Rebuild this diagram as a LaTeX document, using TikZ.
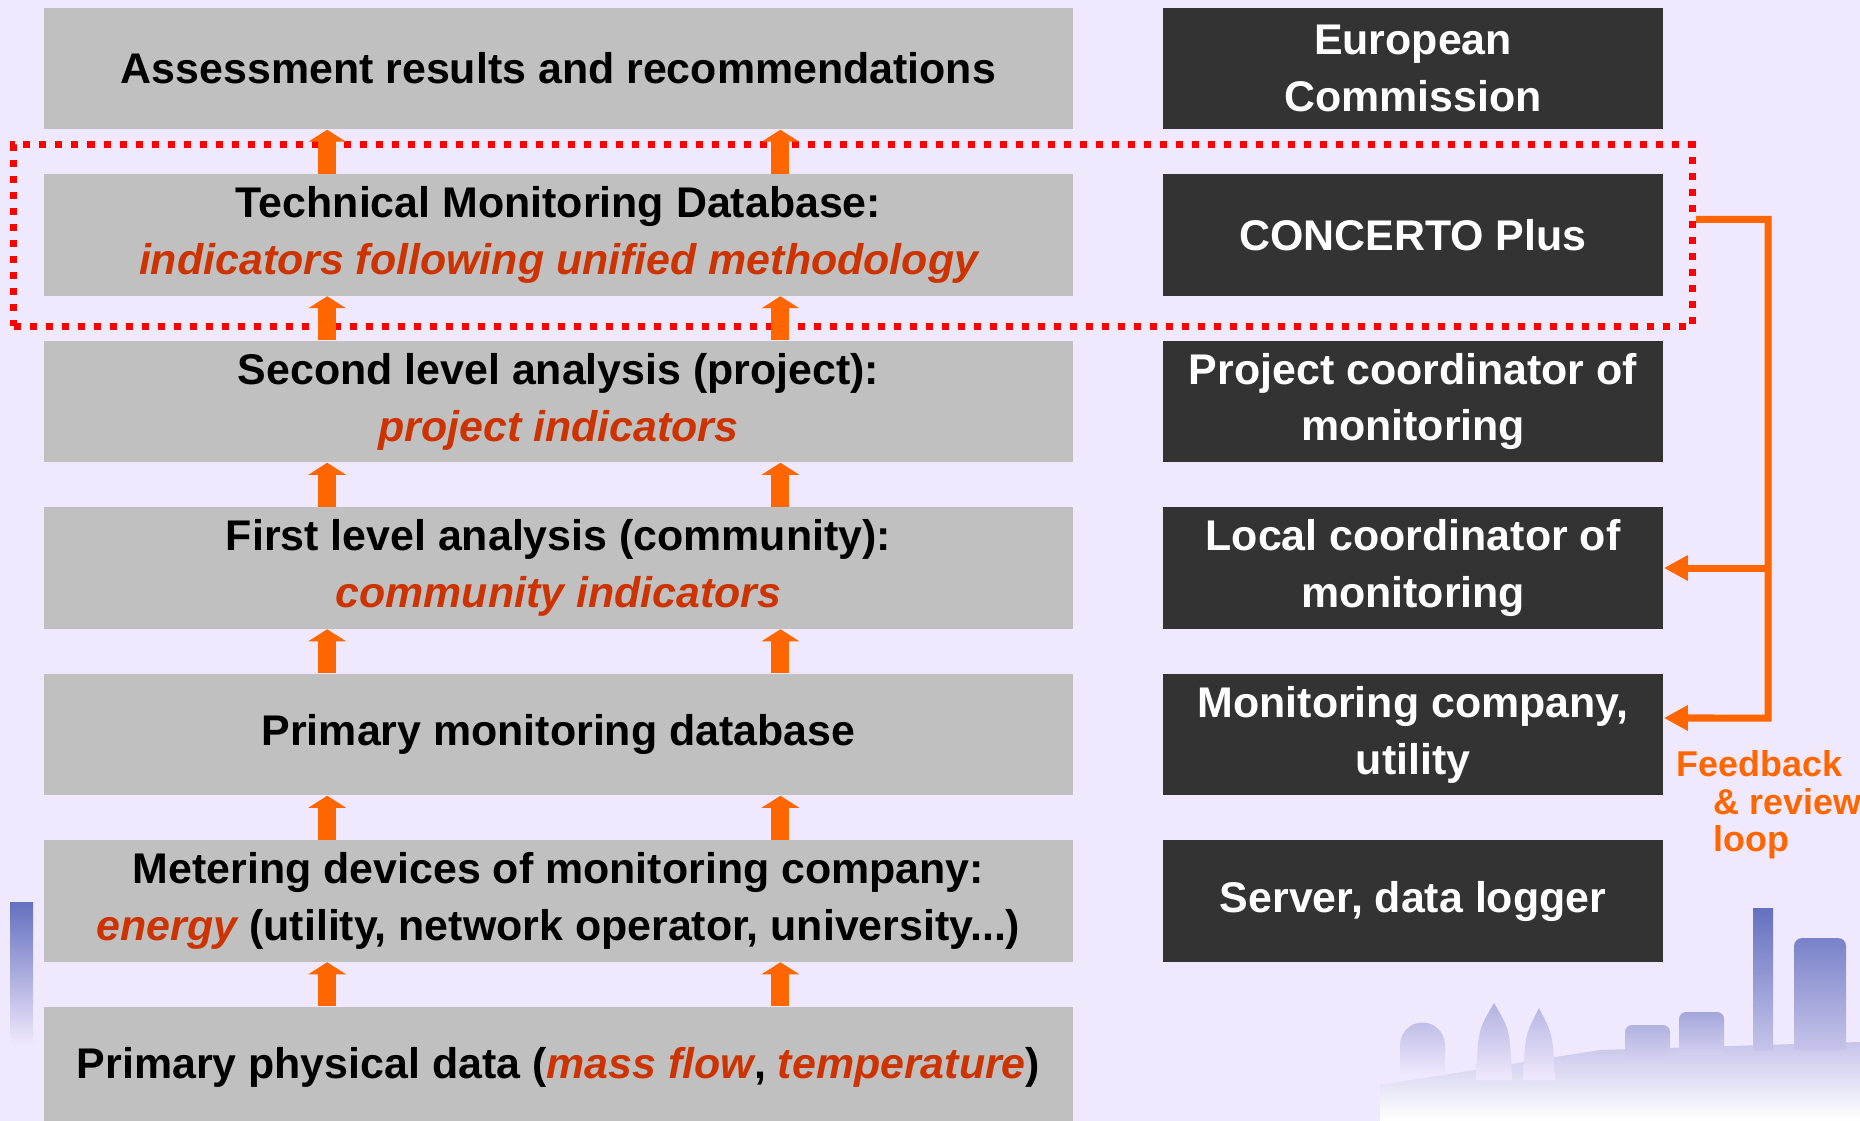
\documentclass[tikz,border=0pt]{standalone}
\usepackage{fontspec}
\setmainfont{Liberation Sans}
\usetikzlibrary{arrows.meta}
\definecolor{bgcol}{HTML}{F0E8FC}
\definecolor{boxgray}{HTML}{C0C0C0}
\definecolor{boxdark}{HTML}{333333}
\definecolor{flow}{HTML}{FF6600}
\definecolor{hilite}{HTML}{CC3300}
\definecolor{skyblue}{HTML}{6470C0}
\newcommand{\redit}[1]{\textcolor{hilite}{\itshape #1}}
\tikzset{
  level/.style={fill=boxgray, minimum width=10.29cm, minimum height=1.21cm, inner sep=0pt, align=center, font=\bfseries\fontsize{12.2}{16.2}\selectfont},
  actor/.style={level, fill=boxdark, text=white, minimum width=5cm},
  uparrow/.style={draw=flow, line width=0.18cm, -{Triangle[width=0.37cm,length=0.12cm]}},
  loopline/.style={draw=flow, line width=0.07cm, -{Triangle[width=0.24cm,length=0.24cm]}},
  focusframe/.style={draw=red, line width=0.07cm, dash pattern=on 0.07cm off 0.09cm, minimum width=16.78cm, minimum height=1.81cm, inner sep=0pt},
}
\begin{document}
\begin{tikzpicture}[x=0.01cm,y=-0.01cm]
        \useasboundingbox (0,0) rectangle (1860,1121);
        \clip (0,0) rectangle (1860,1121);
        \fill[bgcol] (0,0) rectangle (1860,1121);

        % skyline in the background
        \shade[top color=skyblue, bottom color=bgcol] (10,902) rectangle (33,1045);
        \shade[top color=bgcol!70!skyblue, bottom color=white] (1380,1121) -- (1380,1085) -- (1600,1050) -- (1860,1042) -- (1860,1121) -- cycle;
        \shade[top color=skyblue!35!bgcol, bottom color=bgcol] (1400,1075) -- (1400,1045) arc (180:360:22.5) -- (1445,1075) -- cycle;
        \shade[top color=skyblue!45!bgcol, bottom color=bgcol] (1476,1080) .. controls (1478,1030) .. (1494,1003) .. controls (1510,1030) .. (1512,1080) -- cycle;
        \shade[top color=skyblue!40!bgcol, bottom color=bgcol] (1523,1080) .. controls (1525,1035) .. (1539,1008) .. controls (1553,1035) .. (1555,1080) -- cycle;
        \shade[top color=skyblue!45!bgcol, bottom color=bgcol!80!skyblue] (1625,1060) -- (1625,1032) arc (180:270:7) -- (1663,1025) arc (270:360:7) -- (1670,1060) -- cycle;
        \shade[top color=skyblue!55!bgcol, bottom color=bgcol!80!skyblue] (1679,1055) -- (1679,1019) arc (180:270:7) -- (1717,1012) arc (270:360:7) -- (1724,1055) -- cycle;
        \shade[top color=skyblue, bottom color=bgcol!70!skyblue] (1753,1050) rectangle (1773,908);
        \shade[top color=skyblue!85!bgcol, bottom color=bgcol!70!skyblue] (1794,1050) -- (1794,946) arc (180:270:8) -- (1838,938) arc (270:360:8) -- (1846,1050) -- cycle;

        \node[focusframe] (focus) at (853,235.5) {};

        \node[level] (result) at (558.5,68.5) {Assessment results and recommendations};
        \node[level] (tmdb) at (558.5,235) {Technical Monitoring Database:\\ \redit{indicators following unified methodology}};
        \node[level] (second) at (558.5,401.5) {Second level analysis (project):\\ \redit{project indicators}};
        \node[level] (first) at (558.5,568) {First level analysis (community):\\ \redit{community indicators}};
        \node[level] (pmdb) at (558.5,734.5) {Primary monitoring database};
        \node[level] (meter) at (558.5,901) {Metering devices of monitoring company:\\ \redit{energy} (utility, network operator, university...)};
        \node[level] (data) at (558.5,1067.5) {Primary physical data (\redit{mass flow}, \redit{temperature})};

        \node[actor] (ec) at (1413,68.5) {European\\Commission};
        \node[actor] (concerto) at (1413,235) {CONCERTO Plus};
        \node[actor] (coord) at (1413,401.5) {Project coordinator of\\monitoring};
        \node[actor] (loc) at (1413,568) {Local coordinator of\\monitoring};
        \node[actor] (mon) at (1413,734.5) {Monitoring company,\\utility};
        \node[actor] (server) at (1413,901) {Server, data logger};

        \draw[uparrow] ([xshift=2.84cm]data.north west) -- ([xshift=2.84cm]meter.south west);
        \draw[uparrow] ([xshift=7.37cm]data.north west) -- ([xshift=7.37cm]meter.south west);
        \draw[uparrow] ([xshift=2.84cm]meter.north west) -- ([xshift=2.84cm]pmdb.south west);
        \draw[uparrow] ([xshift=7.37cm]meter.north west) -- ([xshift=7.37cm]pmdb.south west);
        \draw[uparrow] ([xshift=2.84cm]pmdb.north west) -- ([xshift=2.84cm]first.south west);
        \draw[uparrow] ([xshift=7.37cm]pmdb.north west) -- ([xshift=7.37cm]first.south west);
        \draw[uparrow] ([xshift=2.84cm]first.north west) -- ([xshift=2.84cm]second.south west);
        \draw[uparrow] ([xshift=7.37cm]first.north west) -- ([xshift=7.37cm]second.south west);
        \draw[uparrow] ([xshift=2.84cm]second.north west) -- ([xshift=2.84cm]tmdb.south west);
        \draw[uparrow] ([xshift=7.37cm]second.north west) -- ([xshift=7.37cm]tmdb.south west);
        \draw[uparrow] ([xshift=2.84cm]tmdb.north west) -- ([xshift=2.84cm]result.south west);
        \draw[uparrow] ([xshift=7.37cm]tmdb.north west) -- ([xshift=7.37cm]result.south west);

        % feedback loop
        \coordinate (fbbot) at (1768,718);
        \draw[loopline] ([yshift=1.6mm]focus.east) -| (fbbot) -- ([yshift=1.65mm]mon.east);
        \draw[loopline] (fbbot |- loc.east) -- (loc.east);
        \node[anchor=north west, inner sep=0pt, align=left, text=flow, font=\bfseries\fontsize{10.2}{10.7}\selectfont] (fbtext) at (1676,750) {Feedback\\\hspace*{0.37cm}\& review\\\hspace*{0.37cm}loop};
\end{tikzpicture}
\end{document}
